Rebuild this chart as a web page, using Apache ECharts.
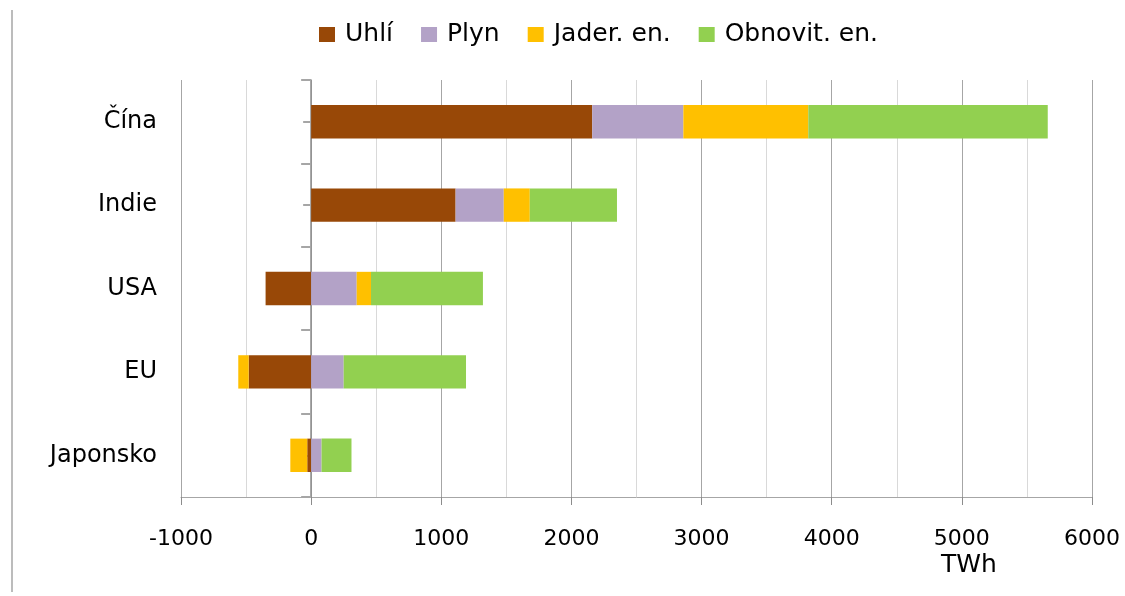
<!DOCTYPE html>
<html>
<head>
<meta charset="utf-8">
<script src="https://cdn.jsdelivr.net/npm/echarts@6/dist/echarts.min.js"></script>
<style>
  html, body { margin: 0; padding: 0; background: #fff; }
  #chart { width: 1125px; height: 596px; }
</style>
</head>
<body>
<div id="chart"></div>
<script>
// zeme odshora dolu
const zeme = ['Čína', 'Indie', 'USA', 'EU', 'Japonsko']
const uhli = [2160, 1110, -350, -480, -30]
const plyn = [700, 370, 350, 250, 80]
const jader = [960, 200, 110, -80, -130]
const obnovit = [1840, 670, 860, 940, 230]

const nazvy = ['Uhlí', 'Plyn', 'Jader. en.', 'Obnovit. en.']
const barvy = ['#984807', '#B3A2C7', '#FFC000', '#92D050']

const font = 'DejaVu Sans'
const myChart = echarts.init(document.getElementById('chart'))

const mkSerie = (name, data, i) => ({
    name: name,
    type: 'bar',
    stack: 'celkem',
    barWidth: '40%',
    data: data,
    itemStyle: { color: barvy[i] }
})

const option = {
    animation: false,
    textStyle: { fontFamily: font },
    color: barvy,
    legend: {
        left: 314,
        top: 17,
        itemWidth: 16,
        itemHeight: 15,
        itemGap: 28,
        icon: 'rect',
        textStyle: { fontSize: 25, color: '#000', fontFamily: font, padding: [0, 0, 0, 5] },
        data: nazvy
    },
    title: {
        text: 'TWh',
        left: 936,
        top: 548,
        textStyle: { fontSize: 25, fontWeight: 'normal', color: '#000', fontFamily: font }
    },
    grid: { left: 181, right: 33, top: 80, bottom: 99, outerBoundsMode: 'none' },
    xAxis: {
        type: 'value',
        min: -1000,
        max: 6000,
        interval: 1000,
        axisLine: { show: true, onZero: false, lineStyle: { color: '#a6a6a6', width: 1 } },
        axisTick: { show: true, length: 8, lineStyle: { color: '#8c8c8c' } },
        axisLabel: { fontSize: 22, color: '#000', margin: 31, fontFamily: font, formatter: v => String(v) },
        splitLine: { show: true, lineStyle: { color: '#a6a6a6', width: 1 } },
        minorTick: { show: false, splitNumber: 2 },
        minorSplitLine: { show: true, lineStyle: { color: '#d9d9d9', width: 1 } }
    },
    yAxis: [
        {
            type: 'category',
            inverse: true,
            data: zeme,
            axisLine: { show: true, onZero: true, lineStyle: { color: '#8c8c8c', width: 1.5 } },
            axisTick: { show: true, length: 10, lineStyle: { color: '#a6a6a6', width: 2 } },
            axisLabel: { fontSize: 24, color: '#000', margin: 24, fontFamily: font }
        },
        {
            // kratke znacky uprostred kategorii
            type: 'category',
            inverse: true,
            position: 'left',
            data: zeme,
            axisLine: { show: false, onZero: true, onZeroAxisIndex: 0 },
            axisTick: { show: true, alignWithLabel: true, length: 8, lineStyle: { color: '#a6a6a6', width: 2 } },
            axisLabel: { show: false }
        }
    ],
    graphic: [
        {
            type: 'line',
            shape: { x1: 12, y1: 10, x2: 12, y2: 592 },
            style: { stroke: '#a6a6a6', lineWidth: 1.5 }
        }
    ],
    series: [
        mkSerie(nazvy[0], uhli, 0),
        mkSerie(nazvy[1], plyn, 1),
        mkSerie(nazvy[2], jader, 2),
        mkSerie(nazvy[3], obnovit, 3)
    ]
}

myChart.setOption(option)
</script>
</body>
</html>
